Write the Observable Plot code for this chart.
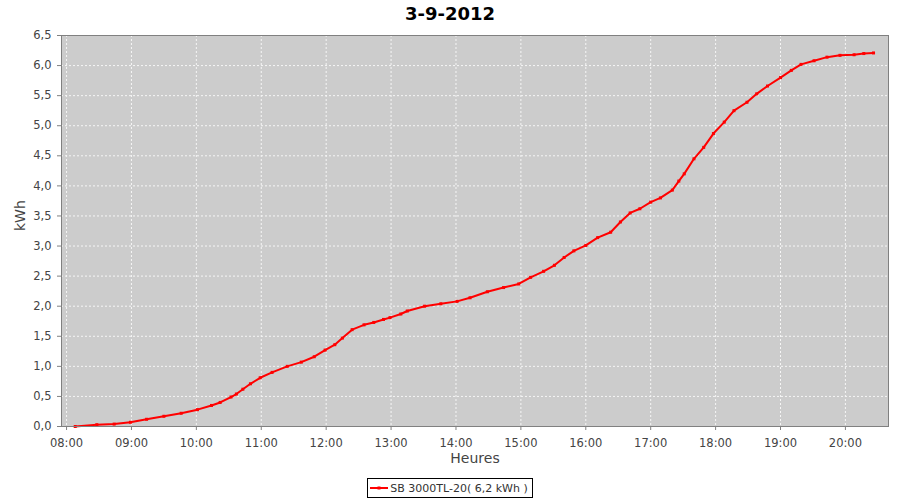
<!DOCTYPE html>
<html>
<head>
<meta charset="utf-8">
<script src="https://cdn.jsdelivr.net/npm/d3@7"></script>
<script src="https://cdn.jsdelivr.net/npm/@observablehq/plot@0.6"></script>
<style>
  html, body { margin: 0; padding: 0; background: #fff; }
  body { width: 900px; height: 500px; font-family: "DejaVu Sans", sans-serif; overflow: hidden; }
  #title { height: 28px; line-height: 28px; text-align: center; font-size: 18px; font-weight: bold; color: #000; }
  #chart svg { display: block; }
  #legend { text-align: center; margin-top: 6px; }
  #legend .box { display: inline-flex; align-items: center; border: 1px solid #000; height: 18px; padding: 0 4px 0 2px; font-size: 11px; color: #333; }
  #legend svg { display: block; margin-right: 2px; }
</style>
</head>
<body>
<div id="title">3-9-2012</div>
<div id="chart"></div>
<div id="legend"></div>
<script>
const chartTitle = "3-9-2012";
const seriesName = "SB 3000TL-20( 6,2 kWh )";
const xLabel = "Heures";
const yLabel = "kWh";
const seriesColor = "red";

const times = ["08:08","08:28","08:44","08:59","09:14","09:30","09:46","10:01","10:14","10:22",
  "10:32","10:37","10:43","10:50","10:59","11:10","11:24","11:37","11:49","11:59",
  "12:08","12:15","12:24","12:35","12:44","12:53","12:59","13:09","13:15","13:31",
  "13:46","14:01","14:13","14:29","14:44","14:58","15:09","15:21","15:31","15:40",
  "15:49","16:00","16:11","16:23","16:32","16:41","16:50","17:00","17:09","17:20",
  "17:26","17:31","17:40","17:49","17:58","18:08","18:17","18:29","18:38","18:48",
  "19:00","19:10","19:19","19:31","19:43","19:55","20:08","20:17","20:26"];
const energy = [0.00,0.03,0.04,0.07,0.12,0.17,0.22,0.28,0.35,0.40,
  0.49,0.54,0.62,0.71,0.81,0.90,1.00,1.07,1.16,1.27,
  1.36,1.47,1.61,1.69,1.73,1.78,1.81,1.87,1.92,2.00,
  2.04,2.08,2.14,2.24,2.31,2.37,2.48,2.58,2.68,2.81,
  2.92,3.01,3.14,3.23,3.40,3.55,3.62,3.73,3.80,3.93,
  4.08,4.20,4.45,4.64,4.87,5.06,5.25,5.39,5.53,5.66,
  5.80,5.92,6.02,6.08,6.14,6.17,6.18,6.20,6.21];
const xTickHours = [8,9,10,11,12,13,14,15,16,17,18,19,20];
const yTicks = [0,0.5,1,1.5,2,2.5,3,3.5,4,4.5,5,5.5,6,6.5];

const toDate = (h, m, s = 0) => new Date(Date.UTC(2012, 8, 3, h, m, s));
const data = times.map((t, i) => {
  const [h, m] = t.split(":").map(Number);
  return {time: toDate(h, m), kwh: energy[i]};
});
const xTicks = xTickHours.map(h => toDate(h, 0));
const fmtTime = d3.utcFormat("%H:%M");
const fmtY = d => d.toFixed(1).replace(".", ",");

const chart = Plot.plot({
  width: 900,
  height: 444,
  marginTop: 7,
  marginBottom: 46,
  marginLeft: 61,
  marginRight: 12,
  style: {fontFamily: "DejaVu Sans, sans-serif", fontSize: "11.5px", color: "#444", background: "transparent"},
  x: {type: "utc", domain: [toDate(7, 55, 20), toDate(20, 39, 50)]},
  y: {domain: [0, 6.5]},
  marks: [
    Plot.frame({fill: "#cccccc", stroke: null}),
    Plot.gridX(xTicks, {stroke: "#f6f6f6", strokeOpacity: 1, strokeDasharray: "2,2", strokeWidth: 1}),
    Plot.gridY(yTicks, {stroke: "#f6f6f6", strokeOpacity: 1, strokeDasharray: "2,2", strokeWidth: 1}),
    Plot.axisX(xTicks, {tickFormat: fmtTime, tickSize: 4, tickPadding: 8, stroke: "#808080", fill: "#444", label: null}),
    Plot.axisY(yTicks, {tickFormat: fmtY, tickSize: 4, tickPadding: 6, stroke: "#808080", fill: "#444", label: null}),
    Plot.line(data, {x: "time", y: "kwh", stroke: seriesColor, strokeWidth: 2}),
    Plot.dot(data, {x: "time", y: "kwh", symbol: "square", r: 1.7, fill: seriesColor, stroke: null}),
    Plot.frame({stroke: "#808080", strokeWidth: 1}),
    Plot.text([xLabel], {frameAnchor: "bottom", dy: 36, text: d => d, fontSize: 14, fill: "#444"}),
    Plot.text([yLabel], {frameAnchor: "left", dx: -41, rotate: -90, text: d => d, fontSize: 14, fill: "#444"})
  ]
});
document.getElementById("chart").appendChild(chart);
document.getElementById("title").textContent = chartTitle;

const legend = document.getElementById("legend");
legend.innerHTML = `<span class="box"><svg width="18" height="10"><line x1="0" y1="5" x2="18" y2="5" stroke="${seriesColor}" stroke-width="2"/><rect x="7.5" y="3.5" width="3" height="3" fill="${seriesColor}"/></svg><span></span></span>`;
legend.querySelector(".box > span").textContent = seriesName;
</script>
</body>
</html>
